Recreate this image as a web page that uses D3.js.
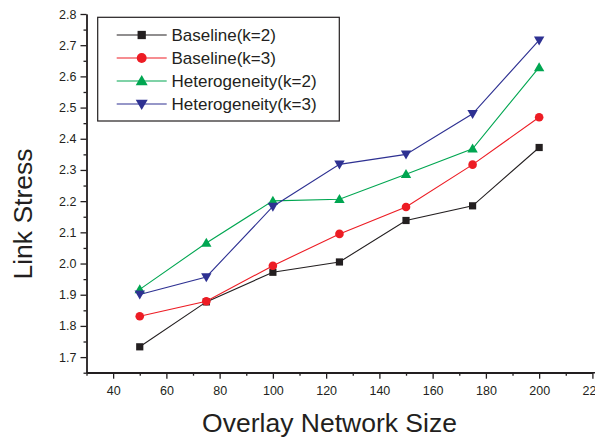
<!DOCTYPE html>
<html>
<head>
<meta charset="utf-8">
<script src="https://cdn.jsdelivr.net/npm/d3@7"></script>
<style>
  html, body { margin: 0; padding: 0; background: #fff; }
  svg { display: block; font-family: "Liberation Sans", Arial, Helvetica, sans-serif; }
</style>
</head>
<body>
<svg id="chart" width="595" height="439"></svg>
<script>
// Overlay network sizes (x) and link stress per configuration
const sizes = [50, 75, 100, 125, 150, 175, 200];
const baselineK2 = [1.733, 1.877, 1.972, 2.005, 2.138, 2.185, 2.372];
const baselineK3 = [1.831, 1.879, 1.993, 2.095, 2.181, 2.317, 2.469];
const heteroK2   = [1.917, 2.066, 2.201, 2.206, 2.286, 2.368, 2.629];
const heteroK3   = [1.901, 1.957, 2.183, 2.318, 2.350, 2.480, 2.716];
const seriesNames = ["Baseline(k=2)", "Baseline(k=3)", "Heterogeneity(k=2)", "Heterogeneity(k=3)"];
const xTickValues = [40, 60, 80, 100, 120, 140, 160, 180, 200, 220];
const yTickValues = [1.7, 1.8, 1.9, 2.0, 2.1, 2.2, 2.3, 2.4, 2.5, 2.6, 2.7, 2.8];

const series = [
  { name: seriesNames[0], values: baselineK2, color: "#231f20", shape: "square" },
  { name: seriesNames[1], values: baselineK3, color: "#ed1c24", shape: "circle" },
  { name: seriesNames[2], values: heteroK2,   color: "#00a651", shape: "up" },
  { name: seriesNames[3], values: heteroK3,   color: "#2e3192", shape: "down" }
];

const svg = d3.select("#chart");

const x = d3.scaleLinear().domain([30, 220]).range([86.5, 592.4]);
const y = d3.scaleLinear().domain([1.65, 2.8]).range([372.7, 14]);

// marker outlines centred on (0,0)
function markerPath(shape) {
  switch (shape) {
    case "square": return "M-3.6,-3.6H3.6V3.6H-3.6Z";
    case "circle": return "M4.3,0A4.3,4.3 0 1,1 -4.3,0A4.3,4.3 0 1,1 4.3,0Z";
    case "up":     return "M0,-5.2L5.2,3.8L-5.2,3.8Z";
    case "down":   return "M0,5.2L5.2,-3.8L-5.2,-3.8Z";
  }
}

// ---- axes ----
const fmtY = d3.format(".1f");
const yAxis = svg.append("g").attr("transform", `translate(${x(30)},0)`)
  .call(d3.axisLeft(y).tickValues(yTickValues).tickFormat(fmtY).tickSize(6).tickPadding(4).tickSizeOuter(0));
const yMinor = svg.append("g").attr("transform", `translate(${x(30)},0)`)
  .call(d3.axisLeft(y).tickValues(d3.range(1.65, 2.8, 0.1).map(v => +v.toFixed(2))).tickFormat("").tickSize(3).tickSizeOuter(0));

const xAxis = svg.append("g").attr("transform", `translate(0,${y(1.65)})`)
  .call(d3.axisBottom(x).tickValues(xTickValues).tickFormat(d3.format("d")).tickSize(6).tickPadding(7).tickSizeOuter(0));
const xMinor = svg.append("g").attr("transform", `translate(0,${y(1.65)})`)
  .call(d3.axisBottom(x).tickValues(d3.range(30, 221, 20)).tickFormat("").tickSize(3).tickSizeOuter(0));

[yAxis, yMinor, xAxis, xMinor].forEach(g => {
  g.selectAll("path.domain").attr("stroke", "#231f20").attr("stroke-width", 1.4);
  g.selectAll(".tick line").attr("stroke", "#231f20").attr("stroke-width", 1.3);
  g.selectAll(".tick text").attr("fill", "#231f20").style("font-size", "12.5px")
    .style("font-family", "'Liberation Sans', Arial, sans-serif");
});
// extend the x axis line to the page edge
xAxis.select("path.domain").attr("d", `M${x(30)},0H595`);

// ---- axis titles ----
svg.append("text")
  .attr("x", 329.5).attr("y", 431.5)
  .attr("text-anchor", "middle")
  .attr("fill", "#231f20")
  .style("font-size", "26.5px")
  .text("Overlay Network Size");

svg.append("text")
  .attr("transform", "translate(31.8,214) rotate(-90)")
  .attr("text-anchor", "middle")
  .attr("fill", "#231f20")
  .style("font-size", "26.5px")
  .text("Link Stress");

// ---- series ----
const line = d3.line().x((d, i) => x(sizes[i])).y(d => y(d));

series.forEach(s => {
  svg.append("path")
    .datum(s.values)
    .attr("fill", "none")
    .attr("stroke", s.color)
    .attr("stroke-width", 1.1)
    .attr("d", line);
  svg.append("g").selectAll("path")
    .data(s.values)
    .join("path")
    .attr("transform", (d, i) => `translate(${x(sizes[i])},${y(d)})`)
    .attr("d", markerPath(s.shape))
    .attr("fill", s.color);
});

// ---- legend ----
const legend = svg.append("g");
legend.append("rect")
  .attr("x", 97.7).attr("y", 17.3).attr("width", 241.6).attr("height", 103.7)
  .attr("fill", "#fff").attr("stroke", "#231f20").attr("stroke-width", 1.2);

series.forEach((s, i) => {
  const cy = 35 + i * 23;
  legend.append("line")
    .attr("x1", 116.7).attr("x2", 166.7).attr("y1", cy).attr("y2", cy)
    .attr("stroke", s.color).attr("stroke-width", 1.1);
  legend.append("path")
    .attr("transform", `translate(141.7,${cy}) scale(1.15)`)
    .attr("d", markerPath(s.shape))
    .attr("fill", s.color);
  legend.append("text")
    .attr("x", 171.5).attr("y", cy + 6.2)
    .attr("fill", "#231f20")
    .style("font-size", "17px")
    .text(s.name);
});
</script>
</body>
</html>
